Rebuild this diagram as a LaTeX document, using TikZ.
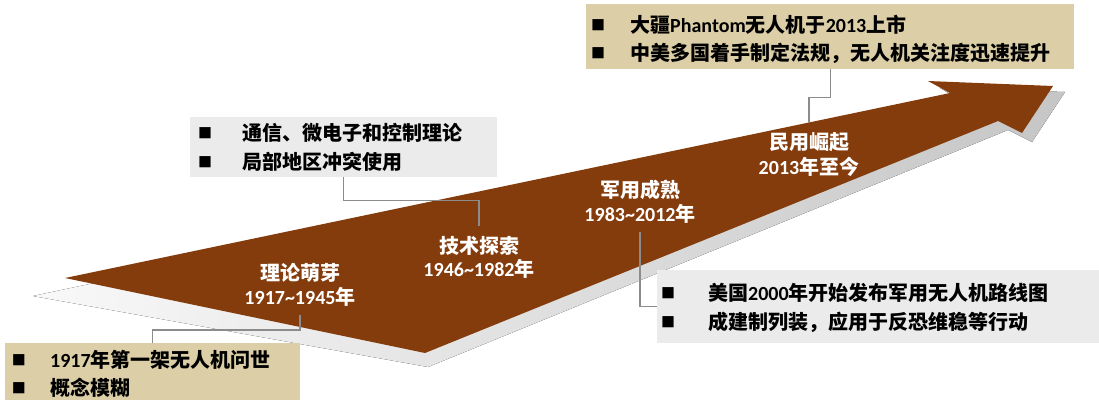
\documentclass[tikz,border=0pt]{standalone}
\usepackage{fontspec}
\setmainfont{Carlito}
\newfontfamily\C{Noto Sans CJK SC}
\definecolor{brownA}{HTML}{843C0C}
\definecolor{tanbox}{HTML}{DCCFA7}
\definecolor{graybox}{HTML}{EBEBEB}
\definecolor{lineg}{HTML}{8C8C8C}
\newcommand{\tl}{\textasciitilde}
\begin{document}
\begin{tikzpicture}[x=1pt,y=-1pt,
  tanb/.style={fill=tanbox, draw=none, inner sep=0pt, anchor=north west},
  grayb/.style={fill=graybox, draw=none, inner sep=0pt, anchor=north west},
  ln/.style={anchor=west, inner sep=0pt, font=\fontsize{20}{20}\selectfont\bfseries},
  bul/.style={anchor=center, inner sep=0pt, font=\fontsize{14}{14}\selectfont\C},
  lab/.style={text=white, inner sep=0pt, font=\fontsize{20}{20}\selectfont\bfseries},
  conn/.style={draw=lineg, line width=1.3pt}]
\useasboundingbox (0,0) rectangle (1099,400);
% shadow
\fill[left color=gray!5, right color=gray!45] (33,296) -- (960,100) -- (940,88) -- (1065,92) -- (1032,142) -- (1008,130) -- (428,367) -- cycle;
% arrow
\fill[brownA] (65,278) -- (950,93) -- (928,81) -- (1053,86) -- (1022,133) -- (998,121) -- (425,353) -- cycle;
% boxes
\node[tanb, minimum width=488pt, minimum height=65pt] (t1) at (586,4) {};
\node[grayb, minimum width=307pt, minimum height=60pt] (g1) at (190,117) {};
\node[tanb, minimum width=295pt, minimum height=57pt] (t2) at (5,343) {};
\node[grayb, minimum width=442pt, minimum height=73pt] (g2) at (657,270) {};
% box texts
\node[bul] (t1s1) at (598,25) {■};
\node[ln] (t1l1) at (630,25) {{\C 大疆}Phantom{\C 无人机于}2013{\C 上市}};
\node[bul] (t1s2) at (598,53) {■};
\node[ln] (t1l2) at (630,53) {{\C 中美多国着手制定法规，无人机关注度迅速提升}};
\node[bul] (g1s1) at (205,133) {■};
\node[ln] (g1l1) at (242,133) {{\C 通信、微电子和控制理论}};
\node[bul] (g1s2) at (205,162) {■};
\node[ln] (g1l2) at (242,162) {{\C 局部地区冲突使用}};
\node[bul] (t2s1) at (19,360) {■};
\node[ln] (t2l1) at (50,360) {1917{\C 年第一架无人机问世}};
\node[bul] (t2s2) at (19,388) {■};
\node[ln] (t2l2) at (50,388) {{\C 概念模糊}};
\node[bul] (g2s1) at (668,293) {■};
\node[ln] (g2l1) at (708,293) {{\C 美国}2000{\C 年开始发布军用无人机路线图}};
\node[bul] (g2s2) at (668,322) {■};
\node[ln] (g2l2) at (708,322) {{\C 成建制列装，应用于反恐维稳等行动}};
% arrow labels
\node[lab] (l1a) at (300,273) {{\C 理论萌芽}};
\node[lab] (l1b) at (300,297) {1917\tl1945{\C 年}};
\node[lab] (l2a) at (479,246) {{\C 技术探索}};
\node[lab] (l2b) at (479,269) {1946\tl1982{\C 年}};
\node[lab] (l3a) at (640,190) {{\C 军用成熟}};
\node[lab] (l3b) at (640,214) {1983\tl2012{\C 年}};
\node[lab] (l4a) at (809,142) {{\C 民用崛起}};
\node[lab] (l4b) at (809,167) {2013{\C 年至今}};
% connectors
\draw[conn] (t2.north) -- ++(0,-13) -| ([yshift=-8pt]l1b.south);
\draw[conn] (g1.south) -- ++(0,23) -| ([yshift=10pt]l2a.north);
\draw[conn] ([yshift=-8pt]l3b.south) |- (g2.west);
\draw[conn] (t1.south) -- ++(0,28) -| ([yshift=9pt]l4a.north);
\end{tikzpicture}
\end{document}
